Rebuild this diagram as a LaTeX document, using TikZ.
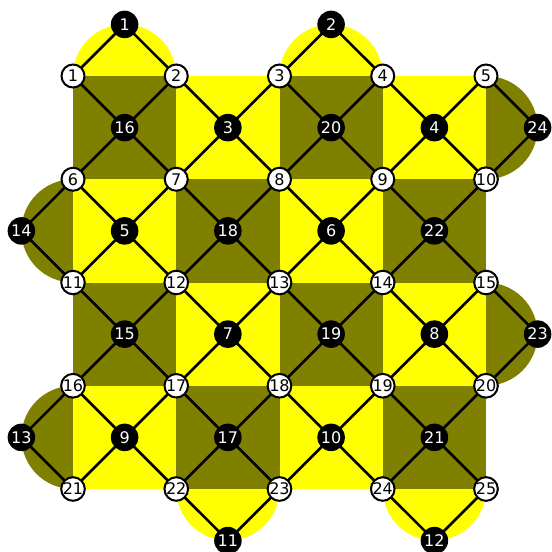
\documentclass[tikz,border=0pt]{standalone}
\usepackage{fontspec}
\setmainfont{DejaVu Sans}
\definecolor{olv}{HTML}{808000}
\definecolor{yel}{HTML}{FFFF00}
\pgfdeclarelayer{fills}
\pgfdeclarelayer{links}
\pgfsetlayers{fills,links,main}
\begin{document}
\begin{tikzpicture}[x=1pt,y=-1pt,
  wnode/.style={circle,draw=black,line width=2pt,fill=white,minimum size=23pt,inner sep=0pt,font=\fontsize{16}{16}\selectfont},
  bnode/.style={circle,fill=black,minimum size=27.5pt,inner sep=0pt,text=white,font=\fontsize{16}{16}\selectfont},
  link/.style={line width=2.5pt}]
\useasboundingbox (0,0) rectangle (552,552);
% white nodes
\foreach \r in {0,...,4}{\foreach \c in {0,...,4}{
  \pgfmathtruncatemacro\k{5*\r+\c+1}
  \node[wnode] (W\k) at ({73+103.25*\c},{76+103.25*\r}) {\k};
}}
% outer black nodes
\node[bnode] (B1)  at (124.6,24.4) {1};
\node[bnode] (B2)  at (331.1,24.4) {2};
\node[bnode] (B24) at (537.6,127.6) {24};
\node[bnode] (B23) at (537.6,334.1) {23};
\node[bnode] (B14) at (21.4,230.9) {14};
\node[bnode] (B13) at (21.4,437.4) {13};
\node[bnode] (B11) at (227.9,540.6) {11};
\node[bnode] (B12) at (434.4,540.6) {12};
\begin{pgfonlayer}{fills}
  \fill[yel] (B1 |- W1) circle (51.6);
  \fill[yel] (B2 |- W3) circle (51.6);
  \fill[olv] (W5 |- B24) circle (51.6);
  \fill[olv] (W15 |- B23) circle (51.6);
  \fill[olv] (W6 |- B14) circle (51.6);
  \fill[olv] (W16 |- B13) circle (51.6);
  \fill[yel] (B11 |- W22) circle (51.6);
  \fill[yel] (B12 |- W24) circle (51.6);
\end{pgfonlayer}
\begin{pgfonlayer}{links}
  \draw[link] (W1.center) -- (B1.center) -- (W2.center);
  \draw[link] (W3.center) -- (B2.center) -- (W4.center);
  \draw[link] (W5.center) -- (B24.center) -- (W10.center);
  \draw[link] (W15.center) -- (B23.center) -- (W20.center);
  \draw[link] (W6.center) -- (B14.center) -- (W11.center);
  \draw[link] (W16.center) -- (B13.center) -- (W21.center);
  \draw[link] (W22.center) -- (B11.center) -- (W23.center);
  \draw[link] (W24.center) -- (B12.center) -- (W25.center);
\end{pgfonlayer}
% inner black nodes
\foreach \r/\c/\l in {0/0/16,0/1/3,0/2/20,0/3/4,1/0/5,1/1/18,1/2/6,1/3/22,2/0/15,2/1/7,2/2/19,2/3/8,3/0/9,3/1/17,3/2/10,3/3/21}{
  \pgfmathtruncatemacro\a{5*\r+\c+1}
  \pgfmathtruncatemacro\b{\a+1}
  \pgfmathtruncatemacro\d{\a+5}
  \pgfmathtruncatemacro\e{\a+6}
  \pgfmathtruncatemacro\pp{mod(\r+\c,2)}
  \node[bnode] (B\l) at ({73+103.25*(\c+0.5)},{76+103.25*(\r+0.5)}) {\l};
  \begin{pgfonlayer}{links}
    \draw[link] (W\a.center) -- (B\l.center) -- (W\e.center);
    \draw[link] (W\b.center) -- (B\l.center) -- (W\d.center);
  \end{pgfonlayer}
  \begin{pgfonlayer}{fills}
    \ifnum\pp=0
      \fill[olv] (W\a.center) rectangle (W\e.center);
    \else
      \fill[yel] (W\a.center) rectangle (W\e.center);
    \fi
  \end{pgfonlayer}
}
\end{tikzpicture}
\end{document}
